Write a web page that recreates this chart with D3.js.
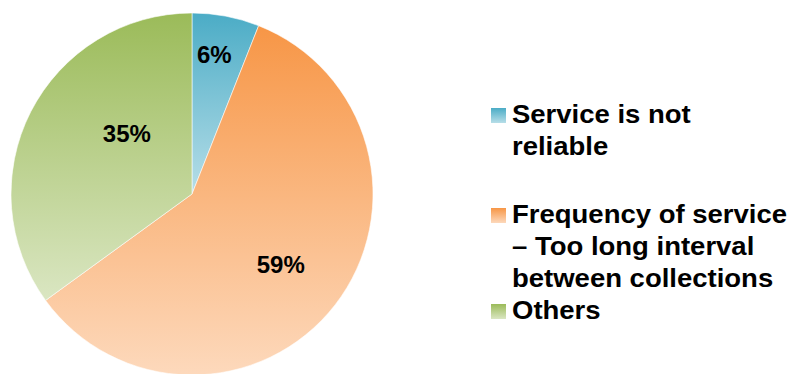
<!DOCTYPE html>
<html>
<head>
<meta charset="utf-8">
<script src="https://cdn.jsdelivr.net/npm/d3@7/dist/d3.min.js"></script>
<style>
  html, body { margin: 0; padding: 0; background: #fff; }
  svg { display: block; font-family: "Liberation Sans", Arial, sans-serif; }
</style>
</head>
<body>
<svg id="chart" width="795" height="374"></svg>
<script>
// Reasons given, share of responses (%)
const categories = [
  "Service is not reliable",
  "Frequency of service – Too long interval between collections",
  "Others"
];
const shares = [6, 59, 35];
const valueLabels = ["6%", "59%", "35%"];

// Legend text, wrapped per entry
const legendLines = [
  ["Service is not", "reliable"],
  ["Frequency of service", "– Too long interval", "between collections"],
  ["Others"]
];

// Fill gradients per slice: top colour → bottom colour
const gradientTops    = ["#4bacc6", "#f79646", "#9bbb59"];
const gradientBottoms = ["#b7dee8", "#fdd9bc", "#dae6c2"];

// Label placement inside each slice: radius fraction and angular shift (degrees)
const labelRadius = [0.78, 0.625, 0.49];
const labelShift  = [-1.7, 0.5, 15.7];

const svg = d3.select("#chart");
const cx = 192, cy = 194, R = 181;

const defs = svg.append("defs");
const grad = (id, top, bottom) => {
  const g = defs.append("linearGradient")
    .attr("id", id).attr("x1", 0).attr("y1", 0).attr("x2", 0).attr("y2", 1);
  g.append("stop").attr("offset", "0%").attr("stop-color", top);
  g.append("stop").attr("offset", "100%").attr("stop-color", bottom);
};
categories.forEach((c, i) => grad("g" + i, gradientTops[i], gradientBottoms[i]));

const pie = d3.pie().sort(null).value(d => d);
const arcs = pie(shares);
const arc = d3.arc().innerRadius(0).outerRadius(R);

const g = svg.append("g").attr("transform", `translate(${cx},${cy})`);
g.selectAll("path.slice")
  .data(arcs)
  .join("path")
  .attr("class", "slice")
  .attr("d", arc)
  .attr("fill", (d, i) => `url(#g${i})`)
  .attr("stroke", "#ffffff")
  .attr("stroke-width", 0.8)
  .attr("stroke-opacity", 0.7);

g.selectAll("text.val")
  .data(arcs)
  .join("text")
  .attr("class", "val")
  .attr("transform", (d, i) => {
    const a = (d.startAngle + d.endAngle) / 2 + labelShift[i] * Math.PI / 180;
    const r = R * labelRadius[i];
    return `translate(${r * Math.sin(a)},${-r * Math.cos(a)})`;
  })
  .attr("text-anchor", "middle")
  .attr("dy", "0.36em")
  .attr("font-size", 24)
  .attr("font-weight", "bold")
  .attr("fill", "#000")
  .text((d, i) => valueLabels[i]);

// Legend (text drawn slightly wide)
const legendX = 491, textX = 512, lineH = 32, stretch = 1.1;
const firstBaselines = [123, 223, 319];
const lg = svg.append("g");
legendLines.forEach((lines, i) => {
  const b = firstBaselines[i];
  lg.append("rect")
    .attr("x", legendX).attr("y", b - 15)
    .attr("width", 15).attr("height", 15)
    .attr("fill", `url(#g${i})`);
  const t = lg.append("text")
    .attr("transform", `translate(${textX},0) scale(${stretch},1)`)
    .attr("x", 0).attr("y", b)
    .attr("font-size", 25)
    .attr("font-weight", "bold")
    .attr("fill", "#000");
  lines.forEach((ln, j) => {
    t.append("tspan").attr("x", 0).attr("y", b + j * lineH).text(ln);
  });
});
</script>
</body>
</html>
